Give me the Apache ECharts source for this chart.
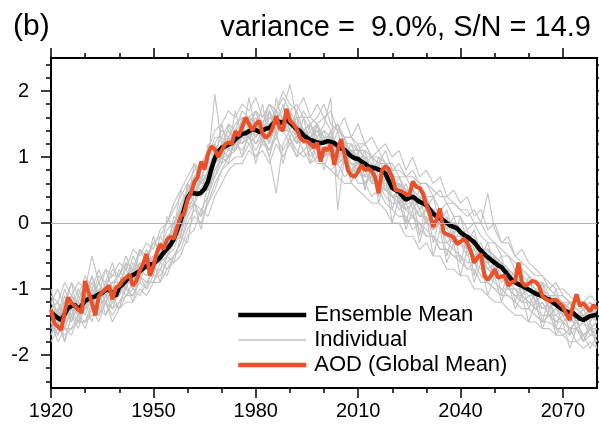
<!DOCTYPE html>
<html><head><meta charset="utf-8">
<script src="https://cdn.jsdelivr.net/npm/echarts@6/dist/echarts.min.js"></script>
<style>html,body{margin:0;padding:0;background:#fff}#c{width:599px;height:426px}</style>
</head><body><div id="c"></div>
<script>
const titleLeft = "(b)";
const titleRight = "variance =  9.0%, S/N = 14.9";
const legendNames = ["Ensemble Mean", "Individual", "AOD (Global Mean)"];
const xMajorTicks = [1920, 1950, 1980, 2010, 2040, 2070];
const xMinorTicks = [1930, 1940, 1960, 1970, 1990, 2000, 2020, 2030, 2050, 2060];
const yMajorTicks = [-2, -1, 0, 1, 2];
const yMinorTicks = [-2.4, -2.2, -1.8, -1.6, -1.4, -1.2, -0.8, -0.6, -0.4, -0.2, 0.2, 0.4, 0.6, 0.8, 1.2, 1.4, 1.6, 1.8, 2.2, 2.4];

// annual, 1920..2080
const ensembleMean = [
-1.35,-1.40,-1.44,-1.47,-1.38,-1.29,-1.26,-1.24,-1.31,-1.25,
-1.18,-1.15,-1.13,-1.11,-1.08,-1.06,-1.02,-1.00,-1.08,-1.10,
-0.97,-0.93,-0.87,-0.82,-0.79,-0.76,-0.73,-0.69,-0.65,-0.63,
-0.62,-0.57,-0.52,-0.45,-0.39,-0.33,-0.24,-0.10,0.04,0.20,
0.38,0.46,0.45,0.44,0.46,0.52,0.63,0.82,0.98,1.08,
1.14,1.16,1.19,1.21,1.27,1.31,1.35,1.36,1.39,1.42,
1.41,1.38,1.40,1.43,1.44,1.50,1.55,1.53,1.52,1.58,
1.52,1.47,1.42,1.39,1.33,1.29,1.26,1.24,1.22,1.21,
1.22,1.24,1.23,1.21,1.17,1.13,1.11,1.06,1.01,0.98,
0.97,0.93,0.90,0.86,0.84,0.83,0.81,0.79,0.75,0.64,
0.53,0.50,0.47,0.41,0.35,0.38,0.40,0.36,0.32,0.30,
0.27,0.20,0.14,0.10,0.07,0.04,0.00,-0.04,-0.06,-0.08,
-0.14,-0.18,-0.21,-0.25,-0.29,-0.36,-0.42,-0.47,-0.52,-0.56,
-0.60,-0.64,-0.67,-0.73,-0.80,-0.86,-0.90,-0.93,-0.95,-0.98,
-1.01,-1.04,-1.07,-1.09,-1.11,-1.14,-1.16,-1.20,-1.24,-1.28,
-1.31,-1.34,-1.36,-1.36,-1.41,-1.45,-1.47,-1.44,-1.41,-1.40,
-1.39];

const aodGlobalMean = [
-1.31,-1.52,-1.57,-1.62,-1.35,-1.13,-1.21,-1.26,-1.31,-1.36,
-0.88,-1.05,-1.21,-1.40,-1.11,-1.05,-1.00,-0.95,-1.16,-0.98,
-0.95,-0.87,-0.83,-0.78,-0.95,-0.88,-0.72,-0.62,-0.47,-0.80,
-0.66,-0.45,-0.32,-0.40,-0.25,-0.21,-0.24,-0.06,0.10,0.14,
0.35,0.45,0.62,0.70,0.93,0.81,1.04,1.16,1.12,1.00,
1.10,1.19,1.22,1.20,1.39,1.32,1.45,1.60,1.50,1.40,
1.50,1.55,1.35,1.29,1.34,1.45,1.62,1.44,1.40,1.73,
1.55,1.50,1.42,1.29,1.24,1.24,1.20,1.14,1.22,0.93,
1.14,1.10,1.19,0.88,1.10,1.27,1.04,0.80,0.72,0.70,
0.78,0.88,0.80,0.83,0.78,0.70,0.45,0.80,0.86,0.81,
0.70,0.50,0.49,0.47,0.44,0.42,0.63,0.55,0.53,0.45,
0.27,0.15,-0.06,0.05,0.22,-0.14,-0.17,-0.19,-0.22,-0.32,
-0.28,-0.24,-0.30,-0.42,-0.60,-0.52,-0.47,-0.80,-0.86,-0.80,
-0.70,-0.83,-0.81,-0.80,-0.95,-0.90,-0.88,-0.60,-0.90,-0.95,
-0.92,-0.88,-0.89,-0.95,-1.11,-1.15,-1.18,-1.17,-1.16,-1.22,
-1.26,-1.38,-1.47,-1.25,-1.08,-1.26,-1.21,-1.28,-1.34,-1.24,
-1.30];

// individual members, every 2 years, 1920..2080
const memberA = [-1.1,-1.4,-1.0,-1.3,-1.0,-1.2,-0.8,-1.1,-0.7,-1.0,
-0.7,-0.9,-0.5,-0.7,-0.4,-0.6,-0.2,-0.4,0.1,0.0,
0.6,0.4,0.8,0.6,1.2,1.0,1.5,1.2,1.6,1.4,
1.7,1.3,1.6,1.5,1.8,1.4,1.6,1.2,1.5,1.2,
1.4,1.1,1.4,1.0,1.2,0.9,1.1,0.7,1.0,0.7,
0.7,0.4,0.6,0.3,0.5,0.2,0.4,0.0,0.2,-0.2,
0.1,-0.3,-0.1,-0.5,-0.3,-0.7,-0.5,-0.9,-0.7,-1.1,
-0.8,-1.2,-0.9,-1.3,-1.0,-1.4,-1.2,-1.5,-1.3,-1.5,-1.3];
const memberB = [-1.6,-1.5,-1.8,-1.4,-1.5,-1.5,-1.2,-1.4,-1.1,-1.3,
-1.2,-1.0,-1.1,-0.8,-0.9,-0.9,-0.6,-0.7,-0.5,-0.3,
0.1,0.3,0.2,0.4,0.7,0.9,1.0,1.2,1.1,1.3,
1.2,1.3,1.1,1.4,1.4,1.2,1.3,1.1,1.2,1.0,
1.1,1.0,0.9,1.0,0.8,0.8,0.6,0.7,0.6,0.5,
0.4,0.2,0.3,0.1,0.2,0.0,-0.1,0.0,-0.3,-0.2,
-0.3,-0.4,-0.5,-0.5,-0.7,-0.8,-0.8,-1.0,-1.1,-1.1,
-1.2,-1.3,-1.2,-1.4,-1.4,-1.5,-1.6,-1.5,-1.7,-1.6,-1.8];
const memberC = [-1.3,-1.2,-1.5,-1.1,-1.2,-0.9,-1.1,-0.8,-0.9,-0.8,
-0.8,-0.6,-0.7,-0.4,-0.5,-0.3,-0.2,0.0,0.3,0.5,
0.7,0.9,0.8,1.1,1.2,1.4,1.3,1.5,1.6,1.5,
1.7,1.5,1.8,1.6,1.7,2.1,1.6,1.6,1.4,1.5,
1.3,1.3,1.1,1.1,0.9,0.9,0.8,0.6,0.6,0.4,
0.3,0.3,0.0,0.1,-0.1,-0.2,-0.2,-0.4,-0.4,-0.5,
-0.6,-0.7,-0.7,-0.9,-0.9,-1.0,-1.1,-1.1,-1.2,-1.3,
-1.3,-1.4,-1.5,-1.4,-1.6,-1.6,-1.7,-1.6,-1.8,-1.7,-1.7];
const memberD = [-1.7,-1.5,-1.6,-1.6,-1.4,-1.5,-1.3,-1.4,-1.2,-1.4,
-1.2,-1.1,-1.1,-0.9,-1.0,-0.8,-0.8,-0.6,-0.5,-0.3,
0.0,0.2,0.1,0.3,0.6,0.8,1.0,1.1,1.3,1.2,
1.3,1.4,1.2,1.5,1.4,1.6,1.5,1.4,1.5,1.3,
1.4,1.3,1.5,1.2,1.2,1.1,1.2,1.0,0.9,1.1,
0.8,0.9,0.7,0.8,0.6,0.6,0.4,0.5,0.3,0.3,
0.2,0.1,0.2,0.0,0.45,-0.1,-0.3,-0.3,-0.5,-0.6,
-0.7,-0.8,-0.8,-1.0,-0.9,-1.1,-1.2,-1.2,-1.3,-1.2,-1.4];
const memberE = [-1.3,-1.6,-1.3,-1.4,-1.1,-1.3,-1.0,-1.2,-0.9,-1.1,
-0.9,-1.0,-0.7,-0.8,-0.5,-0.7,-0.4,-0.3,0.0,0.2,
0.5,0.6,0.8,0.9,1.95,1.2,1.4,1.2,1.5,1.5,
1.3,1.5,1.4,1.7,1.4,1.6,1.3,1.4,1.2,1.3,
1.0,1.2,1.0,1.1,0.8,1.0,0.7,0.9,0.6,0.6,
0.4,0.5,0.2,0.3,0.1,0.2,-0.1,0.0,-0.2,-0.2,
-0.3,-0.3,-0.5,-0.4,-0.7,-0.6,-0.9,-0.8,-1.0,-1.0,
-1.1,-1.1,-1.3,-1.2,-1.4,-1.3,-1.5,-1.4,-1.5,-1.3,-1.5];
const memberF = [-1.5,-1.3,-1.6,-1.3,-1.5,-1.1,-1.3,-1.0,-1.2,-1.0,
-1.1,-0.8,-0.9,-0.7,-0.8,-0.5,-0.6,-0.4,-0.2,0.1,
0.3,0.5,0.4,0.7,0.9,1.1,1.0,1.3,1.2,1.3,
1.1,1.3,1.0,0.45,1.2,1.4,1.2,1.3,1.0,1.2,
1.0,1.1,0.9,1.0,0.8,0.9,0.6,0.8,0.5,0.7,
0.4,0.5,0.3,0.3,0.1,0.2,-0.1,0.0,-0.2,-0.3,
-0.3,-0.5,-0.4,-0.6,-0.7,-0.8,-0.8,-1.0,-1.0,-1.2,
-1.1,-1.3,-1.2,-1.4,-1.3,-1.5,-1.4,-1.6,-1.5,-1.6,-1.6];
const memberG = [-1.2,-1.4,-1.3,-1.1,-1.3,-1.0,-1.1,-0.9,-1.1,-0.9,
-0.9,-0.7,-0.9,-0.6,-0.7,-0.5,-0.5,-0.2,-0.1,0.3,
0.5,0.7,0.6,0.8,1.1,1.3,1.2,1.4,1.5,1.6,
1.5,1.4,1.7,1.5,1.6,1.7,1.5,1.4,1.5,1.3,
1.5,1.9,0.2,1.0,1.1,0.9,0.9,0.8,0.6,0.8,
0.5,0.6,0.4,0.4,0.2,0.3,0.0,0.1,-0.1,-0.2,
-0.2,-0.4,-0.3,-0.5,-0.6,-0.6,-0.8,-0.7,-0.9,-0.9,
-1.0,-1.1,-1.0,-1.2,-1.2,-1.3,-1.2,-1.4,-1.3,-1.5,-1.3];
const memberH = [-1.8,-1.6,-1.7,-1.6,-1.5,-1.5,-1.4,-1.3,-1.4,-1.2,
-1.3,-1.1,-1.0,-1.1,-0.9,-0.9,-0.7,-0.8,-0.5,-0.4,
-0.1,0.1,0.0,0.3,0.5,0.8,0.9,1.0,1.0,1.2,
1.0,1.2,1.1,1.3,1.1,1.3,1.1,1.0,1.1,0.9,
0.9,0.8,0.9,0.7,0.8,0.6,0.6,0.4,0.5,0.3,
0.2,0.1,0.1,-0.1,0.0,-0.2,-0.2,-0.4,-0.4,-0.5,
-0.5,-0.7,-0.6,-0.8,-0.9,-1.0,-1.0,-1.1,-1.2,-1.3,
-1.3,-1.4,-1.5,-1.5,-1.6,-1.7,-1.6,-1.8,-1.7,-1.9,-1.7];
const memberI = [-1.1,-1.2,-0.9,-1.1,-0.9,-1.0,-0.5,-0.9,-0.7,-0.8,
-0.6,-0.7,-0.4,-0.5,-0.3,-0.4,-0.1,0.0,0.2,0.4,
0.6,0.8,0.9,1.0,1.3,1.3,1.5,1.4,1.7,1.6,
1.7,1.6,1.8,1.7,1.9,1.7,1.8,1.6,1.6,1.5,
1.6,1.4,1.5,1.3,1.3,1.2,1.2,1.0,1.1,0.9,
0.9,0.7,0.7,0.5,0.6,0.4,0.4,0.2,0.3,0.1,
0.1,-0.1,0.0,-0.2,-0.3,-0.3,-0.5,-0.5,-0.7,-0.7,
-0.8,-0.9,-0.9,-1.0,-1.1,-1.1,-1.2,-1.2,-1.3,-1.2,-1.3];
const memberJ = [-1.4,-1.7,-1.5,-1.4,-1.5,-1.3,-1.3,-1.2,-1.2,-1.3,
-1.0,-1.1,-0.9,-0.8,-0.9,-0.7,-0.7,-0.5,-0.4,-0.1,
0.2,0.3,-0.1,0.4,0.8,1.0,1.0,1.2,1.2,1.4,
1.2,1.4,1.3,1.5,1.4,1.4,1.2,1.3,1.1,1.2,
1.0,1.1,1.0,0.9,0.9,0.8,0.7,0.7,0.6,0.5,
0.4,0.4,0.2,0.3,0.1,0.1,-0.1,0.0,-0.2,-0.3,
-0.3,-0.4,-0.5,-0.6,-0.6,-0.8,-0.8,-1.0,-1.0,-1.1,
-1.2,-1.2,-1.3,-1.3,-1.5,-1.4,-1.6,-1.5,-1.7,-1.6,-1.5];
const memberK = [-1.5,-1.7,-1.3,-1.5,-1.2,-1.4,-1.1,-1.3,-1.1,-1.2,
-1.1,-0.8,-1.0,-0.7,-0.8,-0.6,-0.6,-0.5,-0.3,-0.2,
0.2,0.4,0.5,0.5,0.9,1.1,1.0,1.2,1.3,1.4,
1.3,1.5,1.4,1.6,1.5,1.5,1.4,1.3,1.2,1.2,
1.1,1.1,1.0,1.0,0.8,0.8,0.7,0.7,0.5,0.5,
0.4,0.3,0.2,0.1,0.0,-0.1,-0.2,-0.3,-0.3,-0.4,
-0.5,-0.6,-0.6,-0.7,-0.8,-0.9,-1.0,-1.0,-1.1,-1.2,
-1.2,-1.3,-1.4,-1.4,-1.5,-1.5,-1.6,-1.6,-1.7,-1.6,-1.7];
const memberL = [-1.3,-1.2,-1.4,-1.1,-1.3,-1.0,-1.2,-0.9,-1.1,-1.0,
-0.9,-0.8,-0.7,-0.7,-0.5,-0.6,-0.3,-0.3,-0.1,0.1,
0.4,0.6,0.5,0.8,1.0,1.2,1.1,1.3,1.4,1.4,
1.6,1.4,1.5,1.7,1.6,1.5,1.6,1.4,1.3,1.4,
1.2,1.3,1.2,1.1,1.1,1.0,1.0,0.9,0.8,0.8,
0.6,0.6,0.5,0.4,0.3,0.3,0.2,0.1,0.0,0.0,
-0.1,-0.2,-0.3,-0.4,-0.4,-0.5,-0.6,-0.7,-0.8,-0.9,
-0.9,-1.0,-1.1,-1.1,-1.2,-1.2,-1.3,-1.4,-1.4,-1.3,-1.4];
const memberM = [-1.6,-1.4,-1.5,-1.2,-1.4,-1.2,-1.2,-1.0,-1.1,-1.1,
-0.9,-0.9,-0.8,-0.6,-0.7,-0.5,-0.5,-0.3,-0.2,0.0,
0.3,0.5,0.6,0.6,0.9,1.0,1.3,1.2,1.4,1.3,
1.5,1.3,1.6,1.5,1.5,1.6,1.5,1.7,1.5,1.6,
1.8,1.5,1.4,1.3,1.3,1.1,1.1,1.0,0.9,0.9,
0.7,0.7,0.5,0.5,0.4,0.3,0.2,0.2,0.0,0.0,
-0.1,-0.2,-0.2,-0.4,-0.4,-0.5,-0.6,-0.7,-0.8,-0.8,
-0.9,-1.0,-1.0,-1.1,-1.2,-1.2,-1.3,-1.3,-1.4,-1.4,-1.5];
const memberN = [-1.4,-1.3,-1.6,-1.3,-1.4,-1.3,-1.1,-1.2,-1.0,-1.1,
-1.0,-0.9,-0.9,-0.8,-0.6,-0.7,-0.5,-0.4,-0.3,-0.1,
0.3,0.3,0.5,0.5,0.8,1.0,1.1,1.1,1.3,1.3,
1.4,1.3,1.5,1.5,1.4,1.6,1.4,1.4,1.3,1.4,
1.3,1.3,1.2,1.2,1.1,1.1,1.0,1.0,1.0,0.9,
0.8,0.8,0.7,0.7,0.6,0.6,0.5,0.4,0.4,0.3,
0.2,0.2,0.0,0.0,-0.2,-0.3,-0.4,-0.5,-0.6,-0.7,
-0.8,-0.9,-0.9,-1.1,-1.1,-1.2,-1.2,-1.3,-1.3,-1.3,-1.4];
const memberO = [-1.0,-1.5,-1.2,-0.9,-1.4,-1.1,-0.8,-1.2,-0.9,-0.6,
-1.0,-0.6,-0.9,-0.4,-0.6,-0.2,-0.5,0.1,-0.1,0.5,
0.3,0.9,0.6,1.2,0.9,1.5,1.1,1.7,1.3,1.9,
1.4,1.8,1.2,1.9,1.5,1.7,1.2,1.6,1.1,1.5,
1.0,1.4,0.9,1.3,0.7,1.1,0.5,0.9,0.4,0.8,
0.2,0.6,0.0,0.4,-0.2,0.3,-0.3,0.1,-0.5,-0.1,
-0.6,-0.2,-0.8,-0.4,-0.9,-0.5,-1.1,-0.7,-1.2,-0.9,
-1.3,-1.0,-1.5,-1.1,-1.6,-1.2,-1.7,-1.4,-1.8,-1.5,-1.9];
const memberP = [-1.7,-1.3,-1.8,-1.4,-1.6,-1.2,-1.5,-1.0,-1.4,-1.1,
-1.3,-0.9,-1.2,-0.8,-1.0,-0.6,-0.9,-0.5,-0.6,-0.2,
-0.3,0.3,0.1,0.6,0.7,1.0,0.9,1.3,1.0,1.4,
0.9,1.3,1.0,1.4,0.9,1.3,1.0,1.4,0.9,1.2,
0.8,1.2,0.7,1.0,0.6,1.0,0.5,0.9,0.3,0.7,
0.0,0.4,-0.1,0.2,-0.3,0.1,-0.5,-0.1,-0.6,-0.3,
-0.8,-0.4,-0.9,-0.6,-1.1,-0.8,-1.2,-0.9,-1.3,-1.1,
-1.5,-1.2,-1.6,-1.3,-1.7,-1.5,-1.9,-1.6,-1.8,-1.6,-1.8];
const memberQ = [-1.2,-1.0,-1.3,-0.9,-1.1,-0.8,-1.0,-0.7,-1.0,-0.7,
-0.8,-0.5,-0.8,-0.4,-0.6,-0.3,-0.4,-0.1,0.0,0.2,
0.4,0.7,0.9,1.1,1.4,1.5,1.7,1.6,1.8,1.7,
1.9,1.6,1.8,1.7,2.0,1.8,1.7,1.9,1.6,1.8,
1.6,1.7,1.4,1.6,1.3,1.5,1.2,1.3,1.1,1.2,
1.0,1.1,0.8,1.0,0.7,0.8,0.6,0.7,0.4,0.5,
0.3,0.4,0.1,0.2,-0.1,0.0,-0.3,-0.2,-0.5,-0.4,
-0.6,-0.7,-0.8,-0.9,-1.0,-1.0,-1.1,-1.2,-1.2,-1.1,-1.2];
const memberR = [-1.5,-1.8,-1.6,-1.7,-1.4,-1.6,-1.3,-1.5,-1.2,-1.5,
-1.3,-1.2,-1.2,-1.0,-1.1,-0.9,-0.9,-0.7,-0.6,-0.5,
-0.2,-0.1,0.2,0.1,0.4,0.6,0.8,0.9,0.9,1.1,
1.0,1.1,0.9,1.2,1.0,1.2,1.0,1.1,0.9,1.0,
0.9,0.8,0.7,0.6,0.6,0.5,0.4,0.3,0.3,0.2,
0.0,0.0,-0.2,-0.2,-0.4,-0.3,-0.5,-0.5,-0.7,-0.7,
-0.8,-0.8,-1.0,-1.0,-1.1,-1.2,-1.2,-1.3,-1.4,-1.4,
-1.5,-1.5,-1.6,-1.6,-1.7,-1.7,-1.8,-1.8,-1.9,-1.8,-1.9];
const memberS = [-1.3,-1.5,-1.1,-1.4,-1.2,-1.2,-0.9,-1.1,-1.0,-0.9,
-0.8,-1.0,-0.6,-0.8,-0.6,-0.5,-0.6,-0.2,-0.3,0.2,
0.5,0.3,0.7,0.5,1.1,0.9,1.3,1.1,1.5,1.3,
1.5,1.2,1.7,1.3,1.6,1.3,1.5,1.2,1.4,1.1,
1.3,1.0,1.2,0.9,1.1,0.8,1.0,0.6,0.9,0.5,
0.6,0.3,0.5,0.2,0.4,0.0,0.2,-0.1,0.1,-0.3,
-0.1,-0.4,-0.3,-0.6,-0.4,-0.7,-0.6,-0.9,-0.8,-1.1,
-1.0,-1.2,-1.1,-1.3,-1.3,-1.4,-1.4,-1.6,-1.5,-1.7,-1.6];
const memberT = [-1.4,-1.3,-1.2,-1.5,-1.1,-1.3,-1.2,-0.9,-1.2,-1.0,
-1.1,-0.9,-0.7,-0.9,-0.6,-0.8,-0.4,-0.5,-0.1,-0.2,
0.6,0.4,0.7,0.9,1.0,1.2,1.3,1.1,1.4,1.6,
1.3,1.5,1.7,1.4,1.6,1.4,1.7,1.4,1.3,1.5,
1.2,1.4,1.1,1.3,1.0,1.2,0.9,1.0,0.7,0.9,
0.5,0.7,0.4,0.5,0.2,0.4,0.1,0.2,-0.1,0.1,
-0.2,-0.1,-0.4,-0.3,-0.6,-0.5,-0.7,-0.8,-0.9,-0.9,
-1.0,-1.2,-1.1,-1.3,-1.2,-1.4,-1.3,-1.5,-1.4,-1.6,-1.5];
const members = [memberA, memberB, memberC, memberD, memberE, memberF, memberG, memberH, memberI, memberJ,
  memberK, memberL, memberM, memberN, memberO, memberP, memberQ, memberR, memberS, memberT];

const annualYears = [];
for (let y = 1920; y <= 2080; y++) annualYears.push(y);
const memberYears = [];
for (let y = 1920; y <= 2080; y += 2) memberYears.push(y);

const FONT = "'Liberation Sans', Arial, Helvetica, sans-serif";
const chart = echarts.init(document.getElementById('c'), null, {renderer: 'canvas'});

function xAx(pos, ticks, len, showLine, showLabel) {
  return {
    type: 'value', position: pos, min: 1920, max: 2080,
    axisLine: {show: showLine, onZero: false, lineStyle: {color: '#000', width: 2}},
    axisTick: {show: true, inside: false, length: len, customValues: ticks, lineStyle: {color: '#000', width: 1.5}},
    axisLabel: {show: showLabel, customValues: ticks, fontSize: 20, color: '#000', fontFamily: FONT, margin: 13,
      formatter: v => String(v)},
    splitLine: {show: false}
  };
}
function yAx(pos, ticks, len, showLine, showLabel) {
  return {
    type: 'value', position: pos, min: -2.5, max: 2.5,
    axisLine: {show: showLine, onZero: false, lineStyle: {color: '#000', width: 2}},
    axisTick: {show: true, inside: false, length: len, customValues: ticks, lineStyle: {color: '#000', width: 1.5}},
    axisLabel: {show: showLabel, customValues: ticks, fontSize: 20, color: '#000', fontFamily: FONT, margin: 22},
    splitLine: {show: false}
  };
}

const series = [];
members.forEach((m, k) => {
  const s = {
    name: 'Individual', type: 'line', xAxisIndex: 0, yAxisIndex: 0,
    data: memberYears.map((y, i) => [y, m[i]]),
    symbol: 'none', showSymbol: false, z: 2,
    lineStyle: {color: '#c3c3c3', width: 1.1},
    itemStyle: {color: '#c3c3c3'}
  };
  if (k === 0) {
    s.markLine = {silent: true, symbol: 'none', label: {show: false},
      lineStyle: {color: '#b0b0b0', width: 1, type: 'solid'}, data: [{yAxis: 0}]};
  }
  series.push(s);
});
series.push({
  name: 'Ensemble Mean', type: 'line', data: annualYears.map((y, i) => [y, ensembleMean[i]]),
  symbol: 'none', showSymbol: false, z: 3,
  lineStyle: {color: '#000', width: 4.5}, itemStyle: {color: '#000'}
});
series.push({
  name: 'AOD (Global Mean)', type: 'line', data: annualYears.map((y, i) => [y, aodGlobalMean[i]]),
  symbol: 'none', showSymbol: false, z: 4,
  lineStyle: {color: '#ea5128', width: 4}, itemStyle: {color: '#ea5128'}
});

chart.setOption({
  animation: false,
  backgroundColor: '#fff',
  title: [
    {text: titleLeft, left: 8, top: 7, textStyle: {fontSize: 30, fontWeight: 'normal', color: '#000', fontFamily: FONT}},
    {text: titleRight, right: 3, top: 8, textStyle: {fontSize: 29, fontWeight: 'normal', color: '#000', fontFamily: FONT}}
  ],
  legend: {
    data: [
      {name: legendNames[0], lineStyle: {width: 4.5, color: '#000'}},
      {name: legendNames[1], lineStyle: {width: 1.5, color: '#c3c3c3'}},
      {name: legendNames[2], lineStyle: {width: 4.5, color: '#ea5128'}}
    ],
    orient: 'vertical', left: 236, top: 303, padding: 0,
    itemWidth: 68, itemHeight: 14, itemGap: 1,
    itemStyle: {opacity: 0},
    textStyle: {fontSize: 22, color: '#000', fontFamily: FONT, lineHeight: 24, padding: [0, 0, 0, 3]}
  },
  grid: {left: 51, right: 2, top: 58, bottom: 38, containLabel: false},
  xAxis: [
    xAx('bottom', xMajorTicks, 10, true, true),
    xAx('bottom', xMinorTicks, 5, false, false),
    xAx('top', xMajorTicks, 10, true, false),
    xAx('top', xMinorTicks, 5, false, false)
  ],
  yAxis: [
    yAx('left', yMajorTicks, 10, true, true),
    yAx('left', yMinorTicks, 5, false, false),
    yAx('right', yMajorTicks, 10, true, false),
    yAx('right', yMinorTicks, 5, false, false)
  ],
  series: series
});
</script></body></html>
